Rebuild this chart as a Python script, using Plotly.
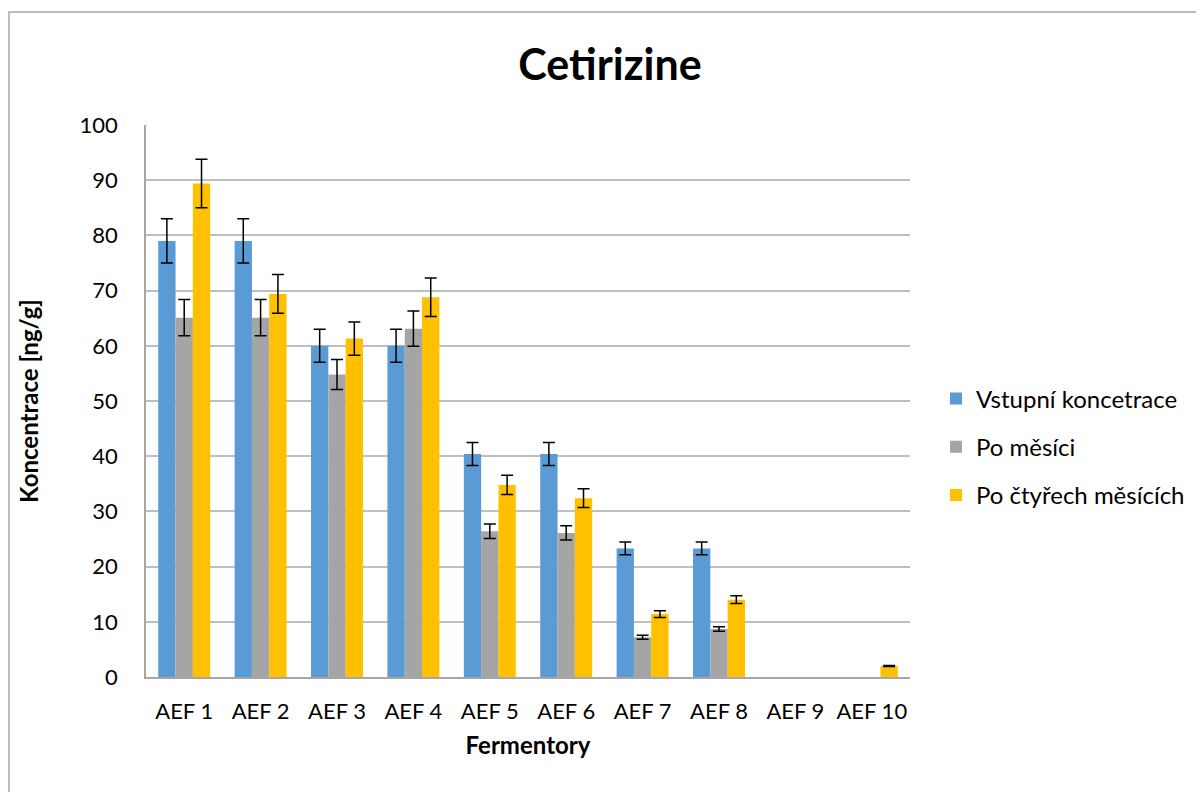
import plotly.graph_objects as go

categories = ["AEF 1", "AEF 2", "AEF 3", "AEF 4", "AEF 5", "AEF 6", "AEF 7", "AEF 8", "AEF 9", "AEF 10"]

# None = nothing measured / not shown (bar of zero height)
vstupni = [79.0, 79.0, 60.0, 60.0, 40.4, 40.4, 23.3, 23.3, None, None]
vstupni_err = [4.0, 4.0, 3.0, 3.0, 2.1, 2.1, 1.15, 1.15, None, None]

po_mesici = [65.1, 65.1, 54.8, 63.1, 26.4, 26.1, 7.2, 8.7, None, None]
po_mesici_err = [3.3, 3.3, 2.7, 3.2, 1.3, 1.3, 0.35, 0.4, None, None]

po_ctyrech = [89.4, 69.4, 61.3, 68.8, 34.8, 32.4, 11.4, 14.0, None, 2.0]
po_ctyrech_err = [4.4, 3.5, 3.0, 3.5, 1.75, 1.7, 0.6, 0.7, None, 0.1]

series = [
    ("Vstupní koncetrace", vstupni, vstupni_err, "#5B9BD5"),
    ("Po měsíci", po_mesici, po_mesici_err, "#A5A5A5"),
    ("Po čtyřech měsících", po_ctyrech, po_ctyrech_err, "#FFC000"),
]

FONT = "Lato, 'Open Sans', sans-serif"
W, H = 1196, 784
L, T, R, B = 138, 117, 902, 669  # plot area edges in figure pixels

fig = go.Figure()
for i, (name, vals, errs, color) in enumerate(series):
    fig.add_trace(go.Bar(
        x=categories, y=vals, name=name,
        marker=dict(color=color, line=dict(width=0)),
        error_y=dict(type="data", array=errs, visible=True, color="black", thickness=1.5, width=6),
        legendgroup=f"g{i}",
    ))

fig.update_layout(
    width=W, height=H,
    barmode="group", bargap=0.32, bargroupgap=0,
    paper_bgcolor="white", plot_bgcolor="white",
    margin=dict(l=L, r=W - R, t=T, b=H - B, pad=0),
    font=dict(family=FONT, size=22, color="black"),
    title=dict(text="<b>Cetirizine</b>", x=602 / W, xref="container", y=1 - 57 / H,
               yref="container", xanchor="center", yanchor="middle",
               font=dict(size=43, family=FONT, color="black")),
    legend=dict(x=(936 - 146) / 764, xanchor="left", y=0.4167, yanchor="middle",
                traceorder="grouped", tracegroupgap=14,
                font=dict(size=24, family=FONT), itemwidth=30),
    xaxis=dict(
        title=dict(text="<b>Fermentory</b>", font=dict(size=24), standoff=14),
        showline=True, linecolor="#A6A6A6", linewidth=1.5,
        ticks="", tickfont=dict(size=22), showgrid=False, ticklabelstandoff=14,
    ),
    yaxis=dict(
        title=dict(text="<b>Koncentrace [ng/g]</b>", font=dict(size=24), standoff=34),
        range=[0, 100], dtick=10, tick0=0,
        showgrid=True, gridcolor="#BFBFBF", gridwidth=1.5,
        showline=True, linecolor="#A6A6A6", linewidth=1.5,
        ticks="", tickfont=dict(size=22), zeroline=False, ticklabelstandoff=22,
    ),
)

fig.add_shape(type="rect", xref="paper", yref="paper",
              x0=(1 - L) / (R - L), x1=(W - 1 - L) / (R - L),
              y0=(B - (H + 5)) / (B - T), y1=(B - 4) / (B - T),
              line=dict(color="#A6A6A6", width=1.5), fillcolor="rgba(0,0,0,0)", layer="below")

fig.write_html("out.html")
